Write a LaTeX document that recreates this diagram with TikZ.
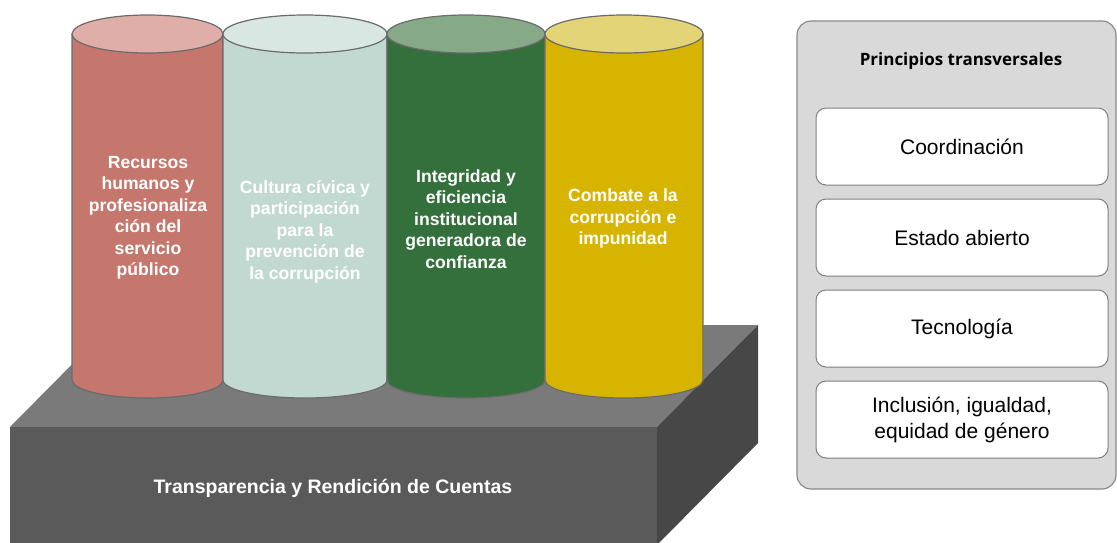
\documentclass[tikz,border=0pt]{standalone}
\usepackage{fontspec}
\setmainfont{Liberation Sans}
\newfontfamily\headfont{Open Sans}
\usetikzlibrary{positioning}

\definecolor{pilA}{HTML}{C5766D}
\definecolor{pilAtop}{HTML}{DFAEA9}
\definecolor{pilB}{HTML}{C2D9D1}
\definecolor{pilBtop}{HTML}{D9E7E2}
\definecolor{pilC}{HTML}{33703B}
\definecolor{pilCtop}{HTML}{86AA88}
\definecolor{pilD}{HTML}{D7B400}
\definecolor{pilDtop}{HTML}{E3D478}
\definecolor{rim}{HTML}{6B6B6B}
\definecolor{slabtop}{HTML}{7A7A7A}
\definecolor{slabfront}{HTML}{5A5A5A}
\definecolor{slabside}{HTML}{474747}
\definecolor{panelfill}{HTML}{D9D9D9}
\definecolor{paneledge}{HTML}{8A8A8A}
\definecolor{boxedge}{HTML}{7F7F7F}

\tikzset{
    pillartext/.style = {text=white, align=center,
        font=\bfseries\fontsize{17.6}{21.5}\selectfont},
    basetext/.style = {text=white, font=\bfseries\fontsize{19.5}{23}\selectfont},
    panel/.style = {draw=paneledge, fill=panelfill, line width=1.2pt,
        rounded corners=14pt, minimum width=319pt, minimum height=468pt},
    headtext/.style = {font=\headfont\bfseries\fontsize{17}{20}\selectfont},
    principle/.style = {draw=boxedge, fill=white, line width=1pt,
        rounded corners=10pt, minimum width=292pt, minimum height=77pt,
        align=center, font=\fontsize{21}{26}\selectfont}
}

\begin{document}
\begin{tikzpicture}[x=1pt,y=1pt,line join=round]
            \useasboundingbox (0,0) rectangle (1117,-542);

            % base block
            \fill [slabtop] (10,-427) -- (111,-325) -- (758,-325) -- (657,-427) -- cycle;
            \fill [slabfront] (10,-427) rectangle (657,-545);
            \fill [slabside] (657,-427) -- (758,-325) -- (758,-443) -- (657,-545) -- cycle;
            \node [basetext] (base) at (333,-488) {Transparencia y Rendición de Cuentas};

            % pillars
            \foreach \xa/\xb/\body/\lid in {72/223/pilA/pilAtop, 223/387/pilB/pilBtop,
                                            387/545/pilC/pilCtop, 545/703/pilD/pilDtop}{
                \pgfmathsetmacro\rx{(\xb-\xa)/2}
                \filldraw [draw=rim, fill=\body, line width=1.2pt]
                    (\xa,-34) -- (\xa,-380)
                    arc [start angle=180, end angle=360, x radius=\rx pt, y radius=18pt]
                    -- (\xb,-34) -- cycle;
                \filldraw [draw=rim, fill=\lid, line width=1.2pt]
                    ({(\xa+\xb)/2},-34) ellipse [x radius=\rx pt, y radius=19pt];
            }

            \node [pillartext] (recursos) at (148,-218)
                {Recursos\\humanos y\\profesionaliza\\ción del\\servicio\\público};
            \node [pillartext] (cultura) at (305,-231.5)
                {Cultura cívica y\\participación\\para la\\prevención de\\la corrupción};
            \node [pillartext] (integridad) at (466,-219)
                {Integridad y\\eficiencia\\institucional\\generadora de\\confianza};
            \node [pillartext] (combate) at (623,-218.5)
                {Combate a la\\corrupción e\\impunidad};

            % principles
            \node [panel] (panel) at (956.5,-255) {};
            \node [headtext] (head) at (961,-61) {Principios transversales};
            \node [principle] (coord) at (962,-146.5) {Coordinación};
            \node [principle, below=13pt of coord] (estado) {Estado abierto};
            \node [principle, below=13pt of estado] (tecno) {Tecnología};
            \node [principle, below=13pt of tecno] (inclusion) {Inclusión, igualdad,\\equidad de género};
        \end{tikzpicture}
\end{document}
